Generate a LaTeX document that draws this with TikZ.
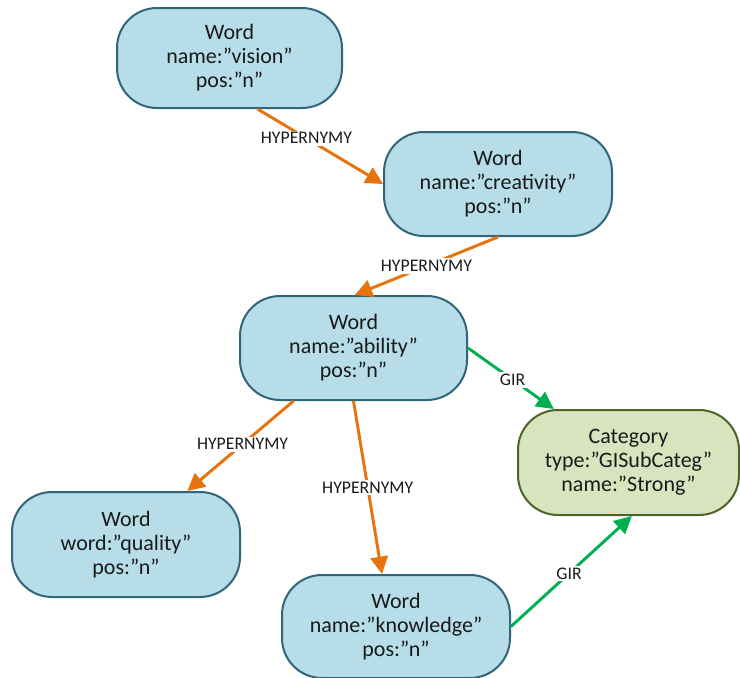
\documentclass[tikz,border=0pt]{standalone}
\usepackage{fontspec}
\setmainfont{Carlito}
\usetikzlibrary{arrows.meta,calc}

\definecolor{wordfill}{HTML}{B7DDE8}
\definecolor{wordline}{HTML}{31657A}
\definecolor{catfill}{HTML}{D7E4BD}
\definecolor{catline}{HTML}{4F6228}
\definecolor{hypcolor}{HTML}{E8720C}
\definecolor{gircolor}{HTML}{00B050}
\definecolor{txt}{HTML}{1A1A1A}

\tikzset{
  entity/.style={rounded corners=30pt, line width=1.5pt, align=center,
    font=\fontsize{16.5}{18}\selectfont, text=txt, inner sep=0pt},
  wordbox/.style={entity, draw=wordline, fill=wordfill},
  catbox/.style={entity, draw=catline, fill=catfill},
  rel/.style={line width=2.2pt, -{Triangle[length=13pt,width=13pt]}},
  hyp/.style={rel, draw=hypcolor},
  gir/.style={rel, draw=gircolor},
  lbl/.style={fill=white, text=txt, inner sep=1.5pt,
    font=\fontsize{13.3}{15}\selectfont}
}

\begin{document}
\begin{tikzpicture}[x=0.75pt, y=-0.75pt]
\useasboundingbox (0,0) rectangle (740,678);

% Word and category nodes
\node[wordbox, minimum width=168.75pt, minimum height=75pt]  (vision)     at (229.5,58)  {Word\\name:”vision”\\pos:”n”};
\node[wordbox, minimum width=171pt,    minimum height=78pt]  (creativity) at (498,184)   {Word\\name:”creativity”\\pos:”n”};
\node[wordbox, minimum width=170.25pt, minimum height=78pt]  (ability)    at (353.5,348) {Word\\name:”ability”\\pos:”n”};
\node[wordbox, minimum width=171pt,    minimum height=78.75pt] (quality)  at (126,544.5) {Word\\word:”quality”\\pos:”n”};
\node[wordbox, minimum width=171pt,    minimum height=77.25pt] (knowledge) at (396,626.5) {Word\\name:”knowledge”\\pos:”n”};
\node[catbox,  minimum width=165.75pt, minimum height=78.75pt] (category) at (628.5,462.5) {Category\\type:”GISubCateg”\\name:”Strong”};

% HYPERNYMY relations
\draw[hyp] ([xshift=21pt]vision.south) -- node[lbl, pos=0.39] {HYPERNYMY} (creativity.west);
\draw[hyp] (creativity.south) -- node[lbl, pos=0.5] {HYPERNYMY} ([xshift=1pt]ability.north);
\draw[hyp] ([xshift=-45pt]ability.south) -- node[lbl, pos=0.48] {HYPERNYMY} ([xshift=46pt]quality.north);
\draw[hyp] (ability.south) -- node[lbl, pos=0.5] {HYPERNYMY} ([xshift=-10.5pt]knowledge.north);

% GIR relations
\draw[gir] (ability.east) -- node[lbl, pos=0.52] {GIR} ([xshift=-56pt]category.north);
\draw[gir] (knowledge.east) -- node[lbl, pos=0.48] {GIR} ([xshift=2.5pt]category.south);
\end{tikzpicture}
\end{document}
